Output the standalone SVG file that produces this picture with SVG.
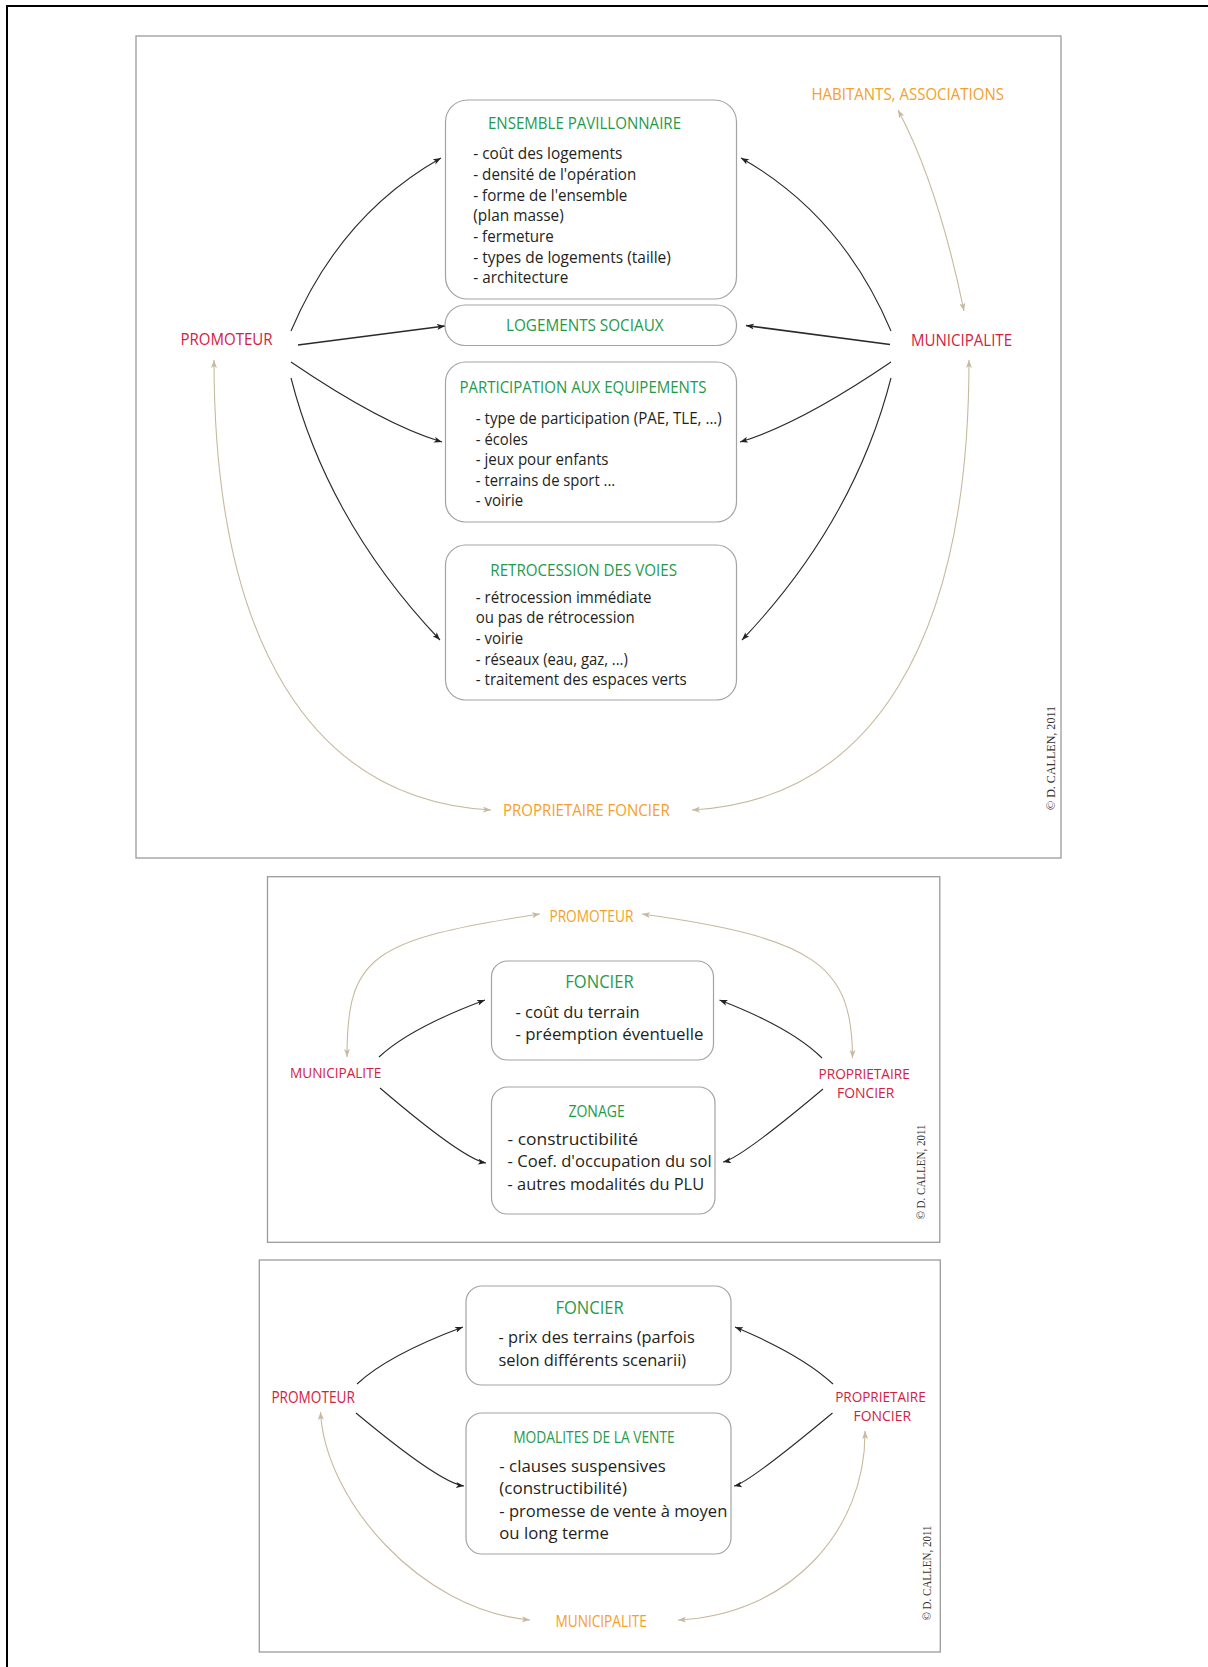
<svg xmlns="http://www.w3.org/2000/svg" width="1208" height="1667" viewBox="0 0 1208 1667">
<style>
.frame{fill:none;stroke:#9b9b9b;stroke-width:1.3}
.box{fill:#fff;stroke:#a3a3a3;stroke-width:1.2}
text{font-family:"Open Sans","Liberation Sans",sans-serif}
.red{fill:#d2213f}
.org{fill:#f4a02a}
.grn{fill:#1f9a4a}
.blk{fill:#231f20}
.cb{fill:none;stroke:#2a2a2a;stroke-width:1.1;marker-end:url(#ab)}
.cbw{fill:none;stroke:#2a2a2a;stroke-width:1.6;marker-end:url(#ab)}
.cg{fill:none;stroke:#c8b99e;stroke-width:1.1;marker-start:url(#ag);marker-end:url(#ag)}
.copy{font-family:"Liberation Serif",serif;fill:#333}
</style>
<defs>
<marker id="ab" viewBox="0 0 8 6" refX="8" refY="3" markerWidth="8" markerHeight="6" markerUnits="userSpaceOnUse" orient="auto-start-reverse"><path d="M0,0 L8,3 L0,6 L2,3 z" fill="#222"/></marker>
<marker id="ag" viewBox="0 0 8 6" refX="8" refY="3" markerWidth="8" markerHeight="6" markerUnits="userSpaceOnUse" orient="auto-start-reverse"><path d="M0,0 L8,3 L0,6 L2,3 z" fill="#c8b99e"/></marker>
</defs>
<rect width="1208" height="1667" fill="#fff"/>
<path d="M7,1667 V6 H1208" fill="none" stroke="#000" stroke-width="2"/>

<!-- ===== Frame 1 ===== -->
<rect class="frame" x="136" y="36" width="925" height="822"/>
<g id="f1-connectors">
<path class="cb" d="M291,331 Q340,215 441,158"/>
<path class="cbw" d="M298,345 L445,326"/>
<path class="cb" d="M291,362 Q382,424 442,442"/>
<path class="cb" d="M291,378 Q328,522 440,640"/>
<path class="cb" d="M891,331 Q842,215 741,158"/>
<path class="cbw" d="M890,344.5 L746,325.5"/>
<path class="cb" d="M891,362 Q800,424 740,442"/>
<path class="cb" d="M891,378 Q854,522 742,640"/>
<path class="cg" d="M214,360 C214,640 310,800 491,810"/>
<path class="cg" d="M969,360 C969,640 873,800 692,810"/>
<path class="cg" d="M898,110 Q938,185 964,311"/>
</g>
<g id="f1-habitants"><text class="org" x="811.5" y="100" font-size="16" textLength="192.5" lengthAdjust="spacingAndGlyphs">HABITANTS, ASSOCIATIONS</text></g>
<g id="f1-promoteur"><text class="red" x="180.5" y="345" font-size="16" textLength="92" lengthAdjust="spacingAndGlyphs">PROMOTEUR</text></g>
<g id="f1-municipalite"><text class="red" x="911" y="345.5" font-size="16" textLength="101" lengthAdjust="spacingAndGlyphs">MUNICIPALITE</text></g>
<g id="f1-proprietaire"><text class="org" x="503" y="815.7" font-size="16" textLength="166.7" lengthAdjust="spacingAndGlyphs">PROPRIETAIRE FONCIER</text></g>
<g id="f1-ensemble">
<rect class="box" x="445.5" y="100" width="291" height="199" rx="22"/>
<text class="grn" x="488" y="129.3" font-size="16" textLength="193" lengthAdjust="spacingAndGlyphs">ENSEMBLE PAVILLONNAIRE</text>
<text class="blk" x="473.3" y="159.3" font-size="15.5" textLength="149" lengthAdjust="spacingAndGlyphs">- coût des logements</text>
<text class="blk" x="473.3" y="180" font-size="15.5" textLength="163" lengthAdjust="spacingAndGlyphs">- densité de l'opération</text>
<text class="blk" x="473.3" y="200.7" font-size="15.5" textLength="154" lengthAdjust="spacingAndGlyphs">- forme de l'ensemble</text>
<text class="blk" x="473.3" y="221.3" font-size="15.5" textLength="90.5" lengthAdjust="spacingAndGlyphs">(plan masse)</text>
<text class="blk" x="473.3" y="242" font-size="15.5" textLength="80.5" lengthAdjust="spacingAndGlyphs">- fermeture</text>
<text class="blk" x="473.3" y="262.7" font-size="15.5" textLength="197.6" lengthAdjust="spacingAndGlyphs">- types de logements (taille)</text>
<text class="blk" x="473.3" y="283.3" font-size="15.5" textLength="95" lengthAdjust="spacingAndGlyphs">- architecture</text>
</g>
<g id="f1-logements">
<rect class="box" x="445" y="305" width="291.5" height="40.5" rx="20"/>
<text class="grn" x="506" y="331" font-size="16" textLength="157.6" lengthAdjust="spacingAndGlyphs">LOGEMENTS SOCIAUX</text>
</g>
<g id="f1-participation">
<rect class="box" x="445.5" y="362" width="291" height="160" rx="20"/>
<text class="grn" x="459.4" y="393.3" font-size="16" textLength="247" lengthAdjust="spacingAndGlyphs">PARTICIPATION AUX EQUIPEMENTS</text>
<text class="blk" x="475.8" y="424" font-size="15.5" textLength="246" lengthAdjust="spacingAndGlyphs">- type de participation (PAE, TLE, ...)</text>
<text class="blk" x="475.8" y="444.6" font-size="15.5" textLength="52.1" lengthAdjust="spacingAndGlyphs">- écoles</text>
<text class="blk" x="475.8" y="465.2" font-size="15.5" textLength="132.7" lengthAdjust="spacingAndGlyphs">- jeux pour enfants</text>
<text class="blk" x="475.8" y="485.8" font-size="15.5" textLength="139.4" lengthAdjust="spacingAndGlyphs">- terrains de sport ...</text>
<text class="blk" x="475.8" y="506.4" font-size="15.5" textLength="47.3" lengthAdjust="spacingAndGlyphs">- voirie</text>
</g>
<g id="f1-retrocession">
<rect class="box" x="445.5" y="545" width="291" height="155" rx="20"/>
<text class="grn" x="490.3" y="576" font-size="16" textLength="186.7" lengthAdjust="spacingAndGlyphs">RETROCESSION DES VOIES</text>
<text class="blk" x="475.8" y="602.7" font-size="15.5" textLength="175.8" lengthAdjust="spacingAndGlyphs">- rétrocession immédiate</text>
<text class="blk" x="475.8" y="623.3" font-size="15.5" textLength="158.8" lengthAdjust="spacingAndGlyphs">ou pas de rétrocession</text>
<text class="blk" x="475.8" y="643.9" font-size="15.5" textLength="47.3" lengthAdjust="spacingAndGlyphs">- voirie</text>
<text class="blk" x="475.8" y="664.5" font-size="15.5" textLength="152.1" lengthAdjust="spacingAndGlyphs">- réseaux (eau, gaz, ...)</text>
<text class="blk" x="475.8" y="685.1" font-size="15.5" textLength="210.9" lengthAdjust="spacingAndGlyphs">- traitement des espaces verts</text>
</g>
<text class="copy" transform="translate(1055,758) rotate(-90)" text-anchor="middle" font-size="13" textLength="104" lengthAdjust="spacingAndGlyphs">© D. CALLEN, 2011</text>

<!-- ===== Frame 2 ===== -->
<rect class="frame" x="267.5" y="876.7" width="672.3" height="365.6"/>
<g id="f2-connectors">
<path class="cb" d="M379,1057 Q410,1028 485,1000"/>
<path class="cb" d="M380,1088 Q463,1159 486,1163"/>
<path class="cb" d="M822,1058 Q792,1028 719.5,1000"/>
<path class="cb" d="M823,1089 Q741,1158 723,1162"/>
<path class="cg" d="M540,914 C370,939.5 347,957 347,1057"/>
<path class="cg" d="M642,914 C815,938 852.5,965 852.5,1058"/>
</g>
<g id="f2-promoteur"><text class="org" x="549.4" y="922.3" font-size="15.5" textLength="84" lengthAdjust="spacingAndGlyphs">PROMOTEUR</text></g>
<g id="f2-municipalite"><text class="red" x="290" y="1077.7" font-size="15" textLength="91.2" lengthAdjust="spacingAndGlyphs">MUNICIPALITE</text></g>
<g id="f2-proprietaire">
<text class="red" x="818.6" y="1079.3" font-size="15" textLength="91.2" lengthAdjust="spacingAndGlyphs">PROPRIETAIRE</text>
<text class="red" x="837" y="1098.3" font-size="15" textLength="57.3" lengthAdjust="spacingAndGlyphs">FONCIER</text>
</g>
<g id="f2-foncier">
<rect class="box" x="491.5" y="961" width="222" height="99" rx="16"/>
<text class="grn" x="565.3" y="988.3" font-size="18" textLength="68.3" lengthAdjust="spacingAndGlyphs">FONCIER</text>
<text class="blk" x="515.5" y="1017.7" font-size="17" textLength="124.2" lengthAdjust="spacingAndGlyphs">- coût du terrain</text>
<text class="blk" x="515.5" y="1040" font-size="17" textLength="188" lengthAdjust="spacingAndGlyphs">- préemption éventuelle</text>
</g>
<g id="f2-zonage">
<rect class="box" x="491.5" y="1087" width="223.5" height="127" rx="16"/>
<text class="grn" x="568.4" y="1116.7" font-size="15.5" textLength="56.4" lengthAdjust="spacingAndGlyphs">ZONAGE</text>
<text class="blk" x="507.6" y="1145" font-size="17" textLength="130.4" lengthAdjust="spacingAndGlyphs">-  constructibilité</text>
<text class="blk" x="507.6" y="1167.3" font-size="17" textLength="204" lengthAdjust="spacingAndGlyphs">- Coef. d'occupation du sol</text>
<text class="blk" x="507.6" y="1190" font-size="17" textLength="196.5" lengthAdjust="spacingAndGlyphs">- autres modalités du PLU</text>
</g>
<text class="copy" transform="translate(924.5,1172) rotate(-90)" text-anchor="middle" font-size="12" textLength="95" lengthAdjust="spacingAndGlyphs">© D. CALLEN, 2011</text>

<!-- ===== Frame 3 ===== -->
<rect class="frame" x="259.3" y="1260" width="681" height="392"/>
<g id="f3-connectors">
<path class="cb" d="M357,1384 Q388,1355 463,1327"/>
<path class="cb" d="M356,1413 Q440,1483 464,1486"/>
<path class="cb" d="M833,1384 Q802,1355 735,1327"/>
<path class="cb" d="M832.5,1413 Q748.5,1483 734,1486"/>
<path class="cg" d="M320.5,1412 C325,1500 420,1610 530,1620"/>
<path class="cg" d="M865,1431 C866,1530 790,1615 678,1620"/>
</g>
<g id="f3-promoteur"><text class="red" x="271.4" y="1403.3" font-size="16" textLength="83.4" lengthAdjust="spacingAndGlyphs">PROMOTEUR</text></g>
<g id="f3-proprietaire">
<text class="red" x="835.2" y="1402" font-size="15" textLength="90.5" lengthAdjust="spacingAndGlyphs">PROPRIETAIRE</text>
<text class="red" x="853.5" y="1421.2" font-size="15" textLength="57.5" lengthAdjust="spacingAndGlyphs">FONCIER</text>
</g>
<g id="f3-municipalite"><text class="org" x="555.5" y="1627.3" font-size="16" textLength="91.4" lengthAdjust="spacingAndGlyphs">MUNICIPALITE</text></g>
<g id="f3-foncier">
<rect class="box" x="466" y="1286" width="265" height="99" rx="16"/>
<text class="grn" x="555.5" y="1314" font-size="18" textLength="68.2" lengthAdjust="spacingAndGlyphs">FONCIER</text>
<text class="blk" x="498.4" y="1343.3" font-size="17" textLength="196.3" lengthAdjust="spacingAndGlyphs">- prix des terrains (parfois</text>
<text class="blk" x="498.4" y="1365.7" font-size="17" textLength="187.8" lengthAdjust="spacingAndGlyphs">selon différents scenarii)</text>
</g>
<g id="f3-modalites">
<rect class="box" x="466" y="1413" width="265" height="141" rx="16"/>
<text class="grn" x="513.2" y="1443.3" font-size="16" textLength="161.5" lengthAdjust="spacingAndGlyphs">MODALITES DE LA VENTE</text>
<text class="blk" x="499.3" y="1471.7" font-size="17" textLength="166.4" lengthAdjust="spacingAndGlyphs">-  clauses suspensives</text>
<text class="blk" x="499.3" y="1494" font-size="17" textLength="127.6" lengthAdjust="spacingAndGlyphs">(constructibilité)</text>
<text class="blk" x="499.3" y="1516.7" font-size="17" textLength="228" lengthAdjust="spacingAndGlyphs">- promesse de vente à moyen</text>
<text class="blk" x="499.3" y="1539" font-size="17" textLength="109.7" lengthAdjust="spacingAndGlyphs">ou long terme</text>
</g>
<text class="copy" transform="translate(930.5,1573) rotate(-90)" text-anchor="middle" font-size="12" textLength="95" lengthAdjust="spacingAndGlyphs">© D. CALLEN, 2011</text>
</svg>
